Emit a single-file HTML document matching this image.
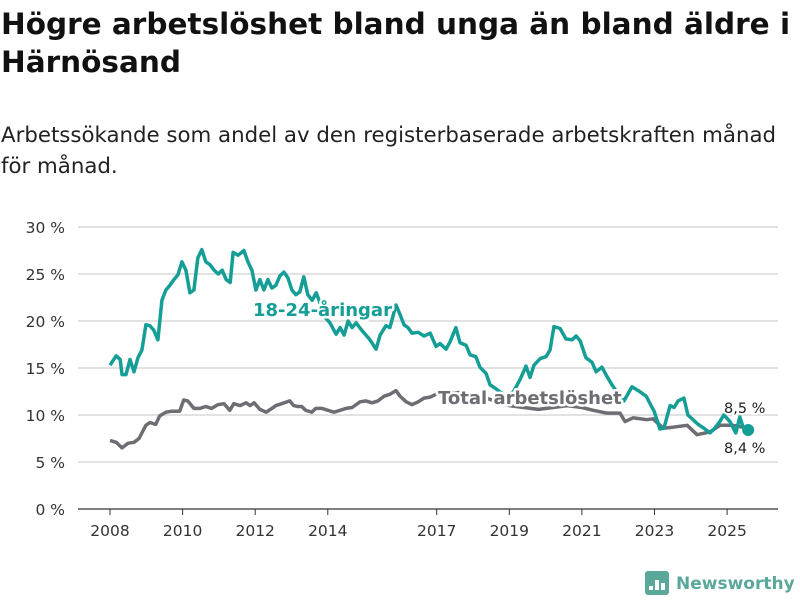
<!DOCTYPE html>
<html><head><meta charset="utf-8"><style>
body{margin:0;width:800px;height:600px;background:#fff;font-family:"DejaVu Sans","Liberation Sans",sans-serif;overflow:hidden}
#title{position:absolute;left:1px;top:5px;font-size:29.5px;font-weight:bold;line-height:38px;color:#111;white-space:nowrap}
#sub{position:absolute;left:1px;top:120px;font-size:21.3px;line-height:31px;color:#222;white-space:nowrap}
svg{position:absolute;left:0;top:0}
</style></head><body>
<div id="title">Högre arbetslöshet bland unga än bland äldre i<br>Härnösand</div>
<div id="sub">Arbetssökande som andel av den registerbaserade arbetskraften månad<br>för månad.</div>
<svg id="chart" width="800" height="600" font-family="DejaVu Sans, Liberation Sans, sans-serif"></svg>
<script>
const yTicks=[0,5,10,15,20,25,30];
const xTicks=[2008,2010,2012,2014,2017,2019,2021,2023,2025];
const youngYears=[2008.0,2008.17,2008.28,2008.33,2008.44,2008.55,2008.66,2008.77,2008.88,2008.99,2009.10,2009.21,2009.32,2009.43,2009.54,2009.65,2009.76,2009.87,2009.98,2010.09,2010.20,2010.31,2010.42,2010.53,2010.64,2010.75,2010.87,2010.98,2011.09,2011.20,2011.31,2011.39,2011.53,2011.69,2011.80,2011.91,2012.02,2012.13,2012.24,2012.35,2012.46,2012.57,2012.68,2012.79,2012.90,2013.01,2013.12,2013.23,2013.34,2013.45,2013.57,2013.68,2013.78,2013.90,2014.06,2014.23,2014.34,2014.45,2014.56,2014.67,2014.78,2014.94,2015.16,2015.33,2015.44,2015.60,2015.71,2015.88,2015.99,2016.10,2016.21,2016.32,2016.49,2016.65,2016.82,2016.98,2017.09,2017.26,2017.37,2017.53,2017.64,2017.81,2017.92,2018.08,2018.19,2018.36,2018.47,2018.63,2018.80,2018.96,2019.13,2019.30,2019.46,2019.57,2019.68,2019.85,2020.01,2020.12,2020.23,2020.40,2020.56,2020.73,2020.84,2020.95,2021.11,2021.28,2021.39,2021.55,2021.66,2021.83,2021.99,2022.16,2022.38,2022.55,2022.77,2022.88,2022.99,2023.15,2023.26,2023.43,2023.54,2023.65,2023.81,2023.92,2024.20,2024.36,2024.53,2024.64,2024.80,2024.91,2025.08,2025.24,2025.35,2025.45,2025.58];
const youngValues=[15.3,16.3,15.9,14.3,14.3,15.9,14.6,16.1,16.9,19.6,19.5,19.0,18.0,22.2,23.3,23.8,24.4,24.9,26.3,25.4,23.0,23.3,26.7,27.6,26.3,26.0,25.4,25.0,25.4,24.4,24.1,27.3,27.0,27.5,26.3,25.4,23.3,24.4,23.3,24.4,23.5,23.8,24.8,25.2,24.6,23.3,22.8,23.1,24.7,22.8,22.2,23.0,22.0,20.5,19.8,18.6,19.3,18.5,20.0,19.3,19.8,19.0,18.0,17.0,18.5,19.5,19.3,21.7,20.7,19.6,19.3,18.7,18.8,18.4,18.7,17.3,17.6,17.0,17.8,19.3,17.7,17.4,16.4,16.2,15.1,14.4,13.2,12.8,12.3,11.8,12.6,13.8,15.2,14.0,15.3,16.0,16.2,16.9,19.4,19.2,18.1,18.0,18.4,17.9,16.1,15.6,14.6,15.1,14.3,13.2,12.3,11.5,13.0,12.6,12.0,11.2,10.4,8.5,8.6,11.0,10.8,11.5,11.8,10.0,9.0,8.6,8.1,8.5,9.3,10.0,9.3,8.1,9.8,8.6,8.4];
const totalYears=[2008.0,2008.17,2008.33,2008.5,2008.66,2008.8,2008.99,2009.10,2009.26,2009.37,2009.54,2009.70,2009.92,2010.03,2010.14,2010.31,2010.47,2010.64,2010.8,2010.97,2011.14,2011.3,2011.41,2011.58,2011.75,2011.86,2011.97,2012.13,2012.3,2012.46,2012.57,2012.73,2012.95,2013.06,2013.17,2013.28,2013.39,2013.56,2013.67,2013.84,2014.0,2014.17,2014.34,2014.5,2014.67,2014.89,2015.05,2015.22,2015.38,2015.55,2015.71,2015.88,2015.99,2016.16,2016.32,2016.49,2016.65,2016.82,2016.98,2017.3,2017.7,2018.2,2018.6,2019.0,2019.4,2019.8,2020.2,2020.6,2021.0,2021.31,2021.69,2022.05,2022.19,2022.41,2022.79,2022.96,2023.24,2023.51,2023.90,2024.17,2024.53,2024.81,2025.16,2025.44,2025.58];
const totalValues=[7.3,7.1,6.5,7.0,7.1,7.5,8.9,9.2,9.0,9.9,10.3,10.4,10.4,11.6,11.5,10.7,10.7,10.9,10.7,11.1,11.2,10.5,11.2,11.0,11.3,11.0,11.3,10.6,10.3,10.7,11.0,11.2,11.5,11.0,10.9,10.9,10.5,10.3,10.7,10.7,10.5,10.3,10.5,10.7,10.8,11.4,11.5,11.3,11.5,12.0,12.2,12.6,12.0,11.4,11.1,11.4,11.8,11.9,12.2,12.3,12.4,12.0,11.5,11.0,10.8,10.6,10.8,11.0,10.8,10.5,10.2,10.2,9.3,9.7,9.5,9.6,8.6,8.7,8.9,7.9,8.2,8.9,8.9,8.7,8.5];
const endLabels=["8,5 %","8,4 %"];
const NS='http://www.w3.org/2000/svg';
const svg=document.getElementById('chart');
const X=y=>110+(y-2008)*36.3;
const Y=v=>509-v*9.4;
function mk(t,a,p){const e=document.createElementNS(NS,t);for(const k in a)e.setAttribute(k,a[k]);(p||svg).appendChild(e);return e;}
yTicks.forEach(v=>{
  const g=mk('line',{x1:78,x2:778,y1:Y(v),y2:Y(v),stroke:v===0?'#333':'#d8d8d8','stroke-width':v===0?1.2:1.5});
  
  
  const t=mk('text',{x:65,y:Y(v)+6,'text-anchor':'end','font-size':15.5,fill:'#333'});
  t.textContent=v+' %';
  
  
});
xTicks.forEach(v=>{
  const l=mk('line',{x1:X(v),x2:X(v),y1:509,y2:515,stroke:'#333','stroke-width':1});
  
  
  const t=mk('text',{x:X(v),y:536,'text-anchor':'middle','font-size':15.5,fill:'#333'});
  t.textContent=v;
  
  
});
function path(xs,vs){return xs.map((x,i)=>(i?'L':'M')+X(x).toFixed(1)+','+Y(vs[i]).toFixed(1)).join('');}
const tl=mk('path',{d:path(totalYears,totalValues),fill:'none',stroke:'#6e6d73','stroke-width':3.5,'stroke-linejoin':'round'});


const yl=mk('path',{d:path(youngYears,youngValues),fill:'none',stroke:'#149e96','stroke-width':3.5,'stroke-linejoin':'round'});


const dot=mk('circle',{cx:X(youngYears[youngYears.length-1]),cy:Y(youngValues[youngValues.length-1]),r:6,fill:'#149e96'});


function lab(txt,x,y,col,name){const t=mk('text',{x:x,y:y,'font-size':18,'font-weight':'bold',fill:col,stroke:'#fff','stroke-width':5,'paint-order':'stroke','stroke-linejoin':'round'});t.textContent=txt;}
lab('18-24-åringar',253,316,'#149e96','youth-series-label');
lab('Total arbetslöshet',438,404,'#6e6d73','total-series-label');
function vlab(txt,y,name){const t=mk('text',{x:724,y:y,'font-size':14.5,fill:'#222',stroke:'#fff','stroke-width':4,'paint-order':'stroke'});t.textContent=txt;}
vlab(endLabels[0],413,'total-end-value');
vlab(endLabels[1],453,'youth-end-value');
const lg=mk('g',{});


mk('rect',{x:645,y:571,width:24,height:24,rx:3,fill:'#5aa89a'},lg);
[[649,586,4],[655,580,10],[661,583,7]].forEach(b=>mk('rect',{x:b[0],y:b[1],width:4,height:b[2],fill:'#fff'},lg));
const lt=mk('text',{x:676,y:589,'font-size':17,'font-weight':'bold',fill:'#5aa89a'},lg);
lt.textContent='Newsworthy';
</script>
</body></html>
